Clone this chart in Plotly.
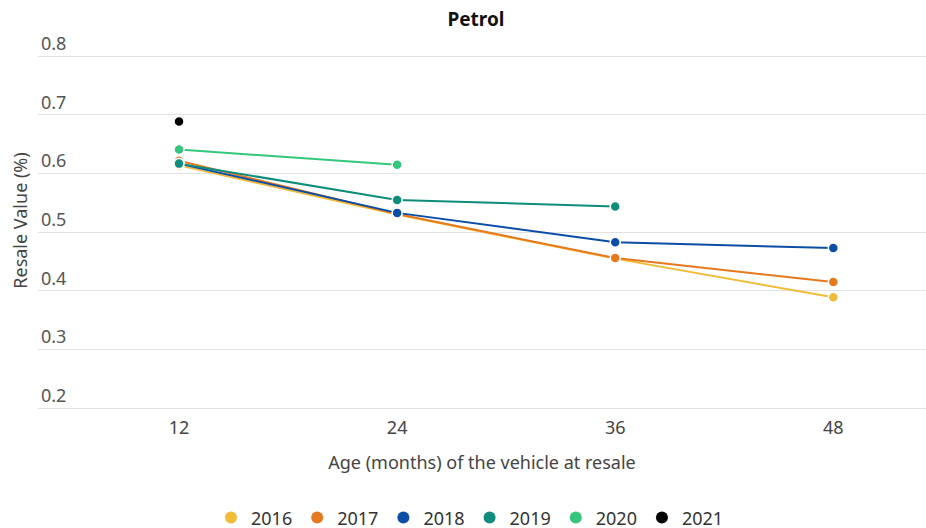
import plotly.graph_objects as go

ages = [12, 24, 36, 48]
years = ["2016", "2017", "2018", "2019", "2020", "2021"]
values = {
    "2016": [0.614, 0.530, 0.455, 0.389],
    "2017": [0.622, 0.531, 0.456, 0.415],
    "2018": [0.617, 0.533, 0.483, 0.473],
    "2019": [0.617, 0.555, 0.544, None],
    "2020": [0.641, 0.615, None, None],
    "2021": [0.689, None, None, None],
}
colors = {
    "2016": "#F0BC3A",
    "2017": "#E6781E",
    "2018": "#0B4EA6",
    "2019": "#0E8C7C",
    "2020": "#34C77B",
    "2021": "#000000",
}
y_ticks = [0.2, 0.3, 0.4, 0.5, 0.6, 0.7, 0.8]

fig = go.Figure()
for yr in years:
    xs = [a for a, v in zip(ages, values[yr]) if v is not None]
    ys = [v for v in values[yr] if v is not None]
    fig.add_trace(go.Scatter(
        x=xs, y=ys, name=yr, mode="lines+markers", showlegend=False,
        line=dict(color=colors[yr], width=2),
        marker=dict(size=10, color=colors[yr], line=dict(color="white", width=1.5)),
    ))
# legend entries (circle markers only)
for yr in years:
    fig.add_trace(go.Scatter(
        x=[None], y=[None], name=yr, mode="markers",
        marker=dict(size=15, color=colors[yr]),
    ))

font = "'Noto Sans', 'Source Sans Pro', Lato, sans-serif"
fig.update_layout(
    width=926, height=537,
    margin=dict(l=38, r=0, t=27, b=116),
    paper_bgcolor="white", plot_bgcolor="white",
    font=dict(family=font, size=18, color="#444"),
    title=dict(text="<b>Petrol</b>", x=0.514, xanchor="center", y=0.964, yanchor="middle",
               font=dict(size=19, color="#111")),
    showlegend=True,
    legend=dict(orientation="h", x=0.4865, xanchor="center", y=-0.2685, yanchor="middle",
                font=dict(size=18, color="#333"), itemsizing="constant", itemwidth=30,
                tracegroupgap=0),
    xaxis=dict(
        range=[4.24, 53.1], tickvals=ages, ticktext=[str(a) for a in ages],
        showgrid=False, zeroline=False, showline=False, automargin=False,
        ticklabelstandoff=1,
        title=dict(text="Age (months) of the vehicle at resale", standoff=18,
                   font=dict(size=18, color="#444")),
        tickfont=dict(size=18, color="#444"),
    ),
    yaxis=dict(
        range=[0.19, 0.85], tickvals=y_ticks, ticktext=[f"{t:.1f}" for t in y_ticks],
        showgrid=True, gridcolor="#e2e2e2", gridwidth=1.2, zeroline=False, showline=False,
        ticklabelposition="inside top", automargin=False,
        title=dict(text="Resale Value (%)", standoff=8, font=dict(size=18, color="#444")),
        tickfont=dict(size=18, color="#555"),
    ),
)

post = (
    "document.documentElement.style.margin='0';"
    "document.body.style.margin='0';"
    "document.body.style.padding='0';"
)
fig.write_html("out.html", config={"displayModeBar": False}, post_script=post)
